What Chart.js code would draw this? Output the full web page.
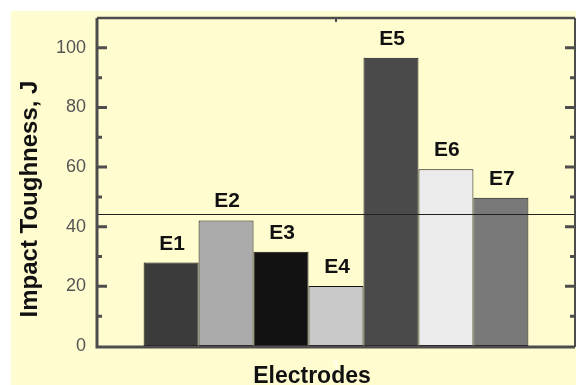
<!DOCTYPE html>
<html>
<head>
<meta charset="utf-8">
<script src="https://cdn.jsdelivr.net/npm/chart.js@4"></script>
<style>
  html, body { margin: 0; padding: 0; background: #ffffff; }
  #wrap { position: absolute; left: 11px; top: 11px; width: 565px; height: 374px; }
  canvas { display: block; }
</style>
</head>
<body>
<div id="wrap"><canvas id="c" width="565" height="374"></canvas></div>
<script>
// ---- data ----
const categories = ['1'];
const seriesNames = ['E1', 'E2', 'E3', 'E4', 'E5', 'E6', 'E7'];
const seriesValues = [28, 42.1, 31.6, 20.1, 96.7, 59.3, 49.7];
const seriesColors = ['#3b3b3b', '#ababab', '#121212', '#c8c8c8', '#4a4a4a', '#ebebeb', '#787878'];
const yTicks = [0, 20, 40, 60, 80, 100];
const yMinorTicks = [10, 30, 50, 70, 90];
const yMin = 0, yMax = 110;
const referenceLine = 44.4;
const yTitle = 'Impact Toughness, J';
const xTitle = 'Electrodes';

const BG = '#fffdd0';
const FRAME = '#4d4d4d';

const decorPlugin = {
  id: 'decor',
  beforeDraw(chart) {
    const ctx = chart.ctx;
    ctx.save();
    ctx.fillStyle = BG;
    ctx.fillRect(0, 0, chart.width, chart.height);
    ctx.restore();
  },
  afterDatasetsDraw(chart) {
    const ctx = chart.ctx;
    const a = chart.chartArea;
    const y = chart.scales.y;
    const x = chart.scales.x;
    ctx.save();
    // reference line
    const ry = Math.round(y.getPixelForValue(referenceLine)) + 0.5;
    ctx.strokeStyle = '#222';
    ctx.lineWidth = 1;
    ctx.beginPath();
    ctx.moveTo(a.left, ry);
    ctx.lineTo(a.right, ry);
    ctx.stroke();

    // frame
    ctx.strokeStyle = FRAME;
    ctx.lineWidth = 3;
    ctx.beginPath();
    ctx.moveTo(a.left, a.top);
    ctx.lineTo(a.left, a.bottom + 1);
    ctx.moveTo(a.left - 1.5, a.bottom + 1);
    ctx.lineTo(a.right, a.bottom + 1);
    ctx.stroke();
    ctx.lineWidth = 2.5;
    ctx.beginPath();
    ctx.moveTo(a.left, a.top);
    ctx.lineTo(a.right, a.top);
    ctx.stroke();
    ctx.lineWidth = 2;
    ctx.beginPath();
    ctx.moveTo(a.right, a.top);
    ctx.lineTo(a.right, a.bottom + 1);
    ctx.stroke();

    // y ticks (inward, both sides)
    ctx.lineWidth = 3;
    const drawTick = (v, len) => {
      const py = y.getPixelForValue(v);
      ctx.beginPath();
      ctx.moveTo(a.left, py);
      ctx.lineTo(a.left + len, py);
      ctx.moveTo(a.right, py);
      ctx.lineTo(a.right - len, py);
      ctx.stroke();
    };
    yTicks.forEach(v => { if (v > yMin) drawTick(v, 10); });
    yMinorTicks.forEach(v => drawTick(v, 5));
    // x ticks (top, at category center)
    ctx.lineWidth = 2;
    categories.forEach((c, i) => {
      const px = x.getPixelForValue(i);
      ctx.beginPath();
      ctx.moveTo(px, a.top);
      ctx.lineTo(px, a.top + 4);
      ctx.stroke();
    });

    // bar labels
    ctx.fillStyle = '#111';
    ctx.font = 'bold 21px "Liberation Sans", Arial, sans-serif';
    ctx.textAlign = 'center';
    ctx.textBaseline = 'alphabetic';
    seriesNames.forEach((name, i) => {
      const el = chart.getDatasetMeta(i).data[0];
      ctx.fillText(name, el.x + 1, el.y - 13);
    });

    // axis titles
    ctx.font = 'bold 23px "Liberation Sans", Arial, sans-serif';
    ctx.textAlign = 'center';
    ctx.fillText(xTitle, 301, 372);
    ctx.font = 'bold 24px "Liberation Sans", Arial, sans-serif';
    ctx.save();
    ctx.translate(26, 188);
    ctx.rotate(-Math.PI / 2);
    ctx.fillText(yTitle, 0, 0);
    ctx.restore();
    ctx.restore();
  }
};

new Chart(document.getElementById('c'), {
  type: 'bar',
  data: {
    labels: categories,
    datasets: seriesNames.map((n, i) => ({
      label: n,
      data: [seriesValues[i]],
      backgroundColor: seriesColors[i],
      borderColor: '#111',
      borderWidth: 1,
      borderSkipped: false,
      categoryPercentage: 0.805,
      barPercentage: 1.0
    }))
  },
  options: {
    responsive: false,
    animation: false,
    devicePixelRatio: 1,
    layout: { padding: { left: 0, right: 1, top: 7, bottom: 0 } },
    plugins: { legend: { display: false }, tooltip: { enabled: false } },
    scales: {
      x: {
        grid: { display: false, drawTicks: false },
        border: { display: false },
        ticks: {
          color: 'rgba(255,255,255,0.85)',
          font: { family: '"Liberation Sans", Arial, sans-serif', size: 16 },
          padding: 12
        },
        afterFit(s) { s.height = 39; s.paddingLeft = 0; s.paddingRight = 0; }
      },
      y: {
        min: yMin,
        max: yMax,
        grid: { display: false, drawTicks: false },
        border: { display: false },
        afterBuildTicks(s) { s.ticks = yTicks.map(v => ({ value: v })); },
        ticks: {
          color: '#555',
          font: { family: '"Liberation Sans", Arial, sans-serif', size: 18 },
          padding: 11
        },
        afterFit(s) { s.width = 86; s.paddingTop = 0; s.paddingBottom = 0; }
      }
    }
  },
  plugins: [decorPlugin]
});
</script>
</body>
</html>
